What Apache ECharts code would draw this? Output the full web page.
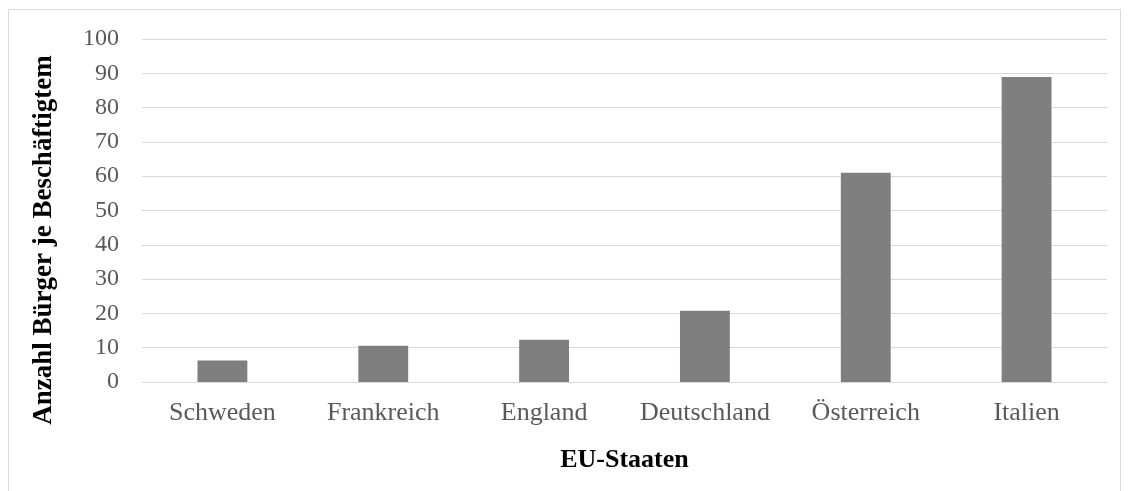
<!DOCTYPE html>
<html><head><meta charset="utf-8">
<script src="https://cdn.jsdelivr.net/npm/echarts@6/dist/echarts.min.js"></script>
<style>html,body{margin:0;padding:0;background:#fff}#c{width:1130px;height:491px}</style>
</head><body><div id="c"></div>
<script>
const categories = ['Schweden','Frankreich','England','Deutschland','Österreich','Italien'];
const values = [6.3, 10.6, 12.3, 20.8, 61.0, 88.9];
const yTitle = 'Anzahl Bürger je Beschäftigtem';
const xTitle = 'EU-Staaten';
const font = '"Liberation Serif","Times New Roman",serif';
const chart = echarts.init(document.getElementById('c'));
chart.setOption({
  animation:false,
  backgroundColor:'#fff',
  grid:{left:142,right:23,top:39,bottom:109,containLabel:false},
  xAxis:{type:'category',data:categories,
    axisLine:{lineStyle:{color:'#d9d9d9',width:1}},axisTick:{show:false},
    axisLabel:{color:'#595959',fontFamily:font,fontSize:26,margin:18,interval:0,hideOverlap:false},
    name:xTitle,nameLocation:'middle',nameGap:65,
    nameTextStyle:{color:'#000',fontFamily:font,fontSize:26,fontWeight:'bold'}},
  yAxis:{type:'value',min:0,max:100,interval:10,
    axisLine:{show:false},axisTick:{show:false},
    splitLine:{lineStyle:{color:'#d9d9d9',width:1}},
    axisLabel:{color:'#595959',fontFamily:font,fontSize:24,margin:23}},
  series:[{type:'bar',data:values,barCategoryGap:'69%',
    itemStyle:{color:'#7f7f7f'}}],
  graphic:[
    {type:'rect',shape:{x:8.5,y:9.5,width:1112,height:500},style:{fill:'none',stroke:'#d9d9d9',lineWidth:1},silent:true},
    {type:'text',x:44,y:240,rotation:Math.PI/2,
      style:{text:yTitle,fill:'#000',font:'bold 27px '+font,textAlign:'center',textVerticalAlign:'middle'}}
  ]
});
</script></body></html>
